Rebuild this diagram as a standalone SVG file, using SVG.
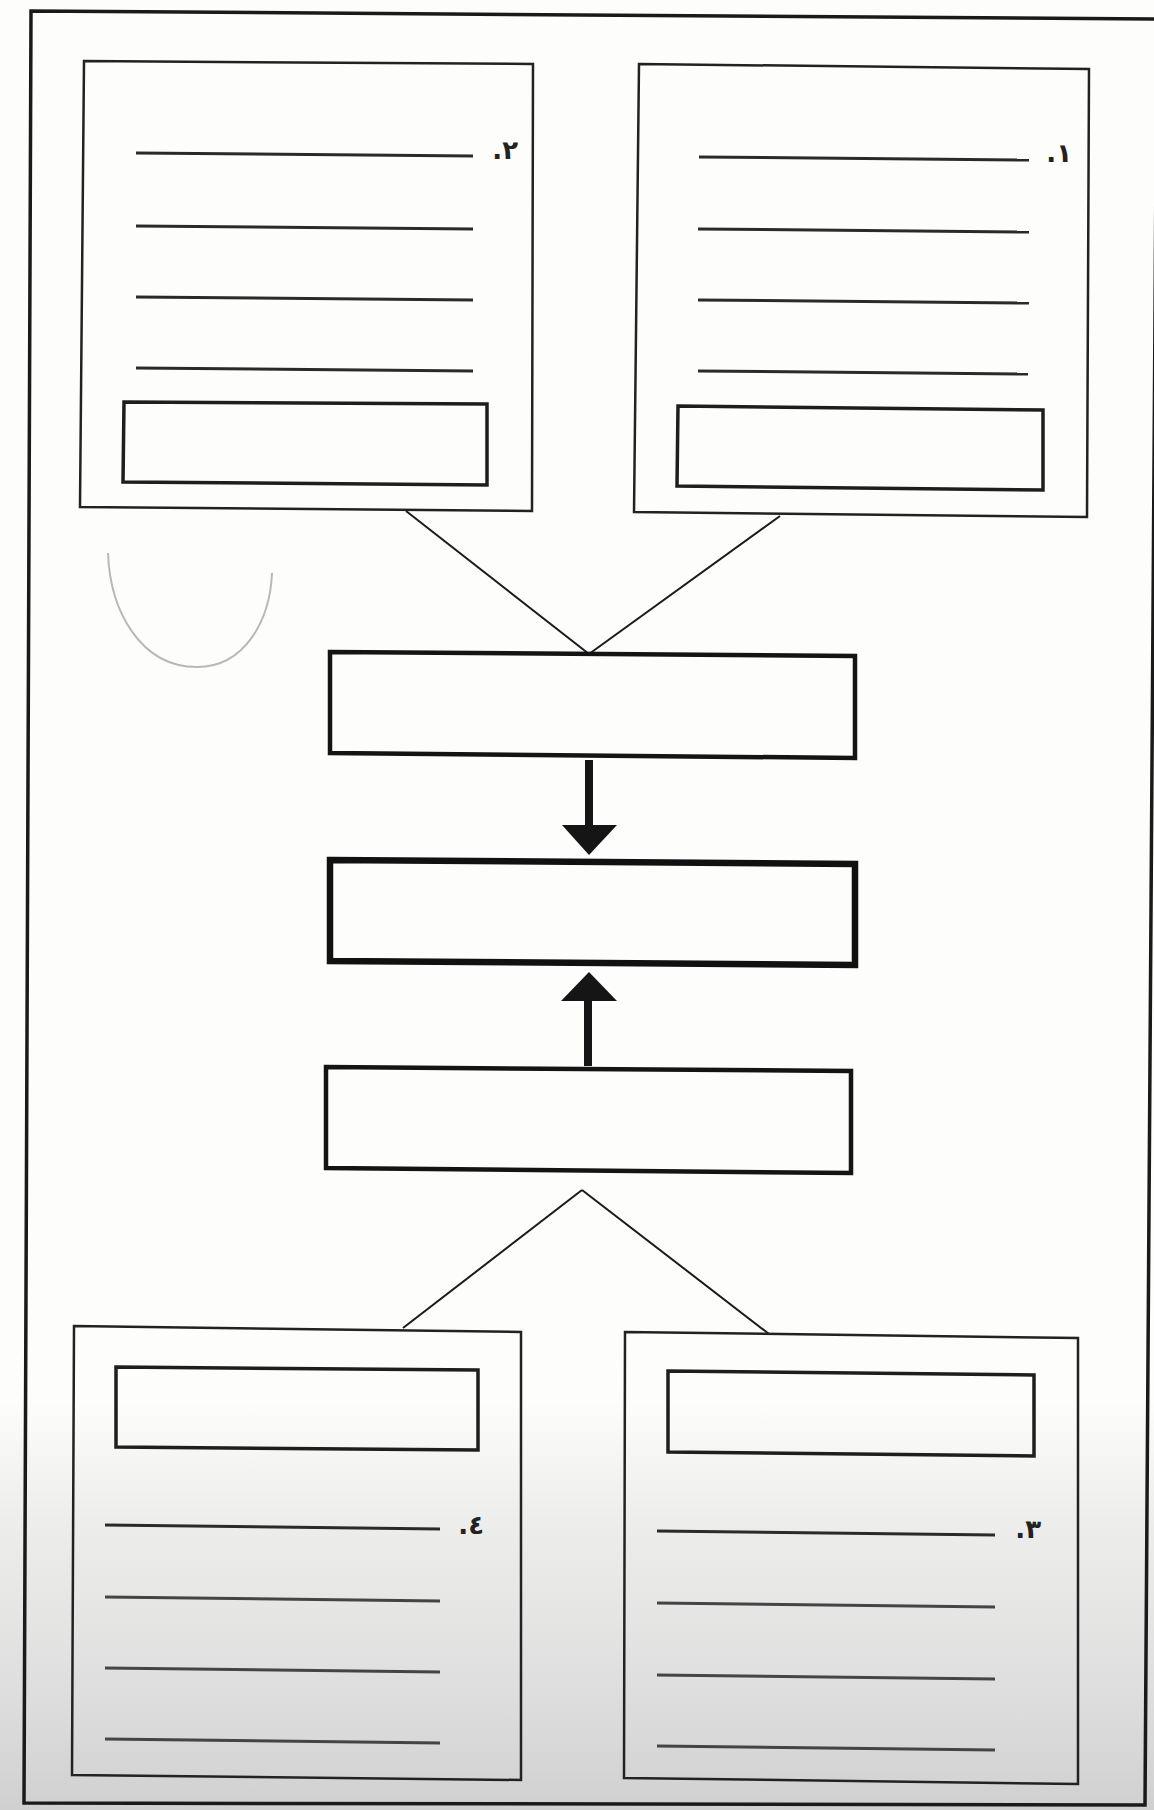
<svg xmlns="http://www.w3.org/2000/svg" width="1154" height="1810" viewBox="0 0 1154 1810">
  <defs>
    <linearGradient id="shade" x1="0" y1="1400" x2="0" y2="1810" gradientUnits="userSpaceOnUse">
      <stop offset="0" stop-color="#e2e2e2" stop-opacity="0"/>
      <stop offset="0.3" stop-color="#e2e2e2" stop-opacity="0.6"/>
      <stop offset="1" stop-color="#d0d0d0" stop-opacity="1"/>
    </linearGradient>
  </defs>
  <style>
    .frame { fill: none; stroke: #1a1a1a; stroke-width: 3.5; stroke-linejoin: miter; }
    .box { fill: none; stroke: #222; stroke-width: 2.5; }
    .inner { fill: none; stroke: #1e1e1e; stroke-width: 3.5; }
    .mid { fill: none; stroke: #141414; stroke-width: 4.5; }
    .midthick { fill: none; stroke: #111; stroke-width: 6.5; }
    .rule { stroke: #2a2a2a; stroke-width: 3; }
    .rulelow { stroke: #444; stroke-width: 3; }
    .conn { fill: none; stroke: #1a1a1a; stroke-width: 2; }
    .shaft { stroke: #151515; stroke-width: 8; }
    .head { fill: #151515; }
    .num { font-family: "DejaVu Sans", "Noto Sans", sans-serif; font-size: 26px; font-weight: bold; fill: #222; direction: rtl; unicode-bidi: embed; }
    .ghost { fill: none; stroke: #b8b8b8; stroke-width: 2; }
  </style>

  <rect x="0" y="0" width="1154" height="1810" fill="#fdfdfb"/>
  <rect x="0" y="1400" width="1154" height="410" fill="url(#shade)"/>

  <g id="frame">
    <polygon class="frame" points="31,11 1157,19 1145,1805 24,1803"/>
  </g>

  <path class="ghost" d="M108,553 C110,610 140,667 197,667 C245,667 270,620 272,573"/>

  <g id="connectors">
    <line class="conn" x1="406" y1="511" x2="589" y2="654"/>
    <line class="conn" x1="780" y1="516" x2="589" y2="654"/>
    <line class="shaft" x1="589" y1="760" x2="589" y2="827"/>
    <polygon class="head" points="562,825 617,825 589,855"/>
    <line class="shaft" x1="588" y1="999" x2="588" y2="1066"/>
    <polygon class="head" points="561,1001 617,1001 589,972"/>
    <line class="conn" x1="582" y1="1190" x2="403" y2="1328"/>
    <line class="conn" x1="582" y1="1190" x2="769" y2="1334"/>
  </g>

  <g id="node-2">
    <polygon class="box" points="84,61 533,64 532,511 80,507"/>
    <line class="rule" x1="136" y1="153" x2="473" y2="156"/>
    <line class="rule" x1="136" y1="226" x2="473" y2="229"/>
    <line class="rule" x1="136" y1="297" x2="473" y2="300"/>
    <line class="rule" x1="136" y1="368" x2="473" y2="371"/>
    <text class="num" x="518" y="159">٢.</text>
    <polygon class="inner" points="124,402 487,404 487,485 123,482"/>
  </g>

  <g id="node-1">
    <polygon class="box" points="639,64 1089,69 1087,517 634,512"/>
    <line class="rule" x1="699" y1="157" x2="1029" y2="160"/>
    <line class="rule" x1="698" y1="229" x2="1029" y2="232"/>
    <line class="rule" x1="698" y1="300" x2="1029" y2="303"/>
    <line class="rule" x1="698" y1="371" x2="1028" y2="374"/>
    <text class="num" x="1072" y="162">١.</text>
    <polygon class="inner" points="678,406 1043,410 1043,490 677,486"/>
  </g>

  <g id="node-a">
    <polygon class="mid" points="330,652 855,656 855,758 330,753"/>
  </g>

  <g id="node-b">
    <polygon class="midthick" points="330,860 855,864 855,965 330,961"/>
  </g>

  <g id="node-c">
    <polygon class="mid" points="326,1067 851,1071 851,1173 326,1168"/>
  </g>

  <g id="node-4">
    <polygon class="box" points="74,1326 521,1332 521,1780 72,1775"/>
    <polygon class="inner" points="116,1367 478,1370 478,1450 116,1447"/>
    <line class="rule" x1="105" y1="1525" x2="440" y2="1529"/>
    <line class="rulelow" x1="105" y1="1597" x2="440" y2="1601"/>
    <line class="rulelow" x1="105" y1="1668" x2="440" y2="1672"/>
    <line class="rulelow" x1="105" y1="1739" x2="440" y2="1743"/>
    <text class="num" x="484" y="1534">٤.</text>
  </g>

  <g id="node-3">
    <polygon class="box" points="625,1332 1078,1338 1078,1784 624,1778"/>
    <polygon class="inner" points="668,1371 1034,1375 1034,1456 668,1452"/>
    <line class="rule" x1="657" y1="1531" x2="995" y2="1535"/>
    <line class="rulelow" x1="657" y1="1603" x2="995" y2="1607"/>
    <line class="rulelow" x1="657" y1="1675" x2="995" y2="1679"/>
    <line class="rulelow" x1="657" y1="1746" x2="995" y2="1750"/>
    <text class="num" x="1041" y="1538">٣.</text>
  </g>
</svg>
